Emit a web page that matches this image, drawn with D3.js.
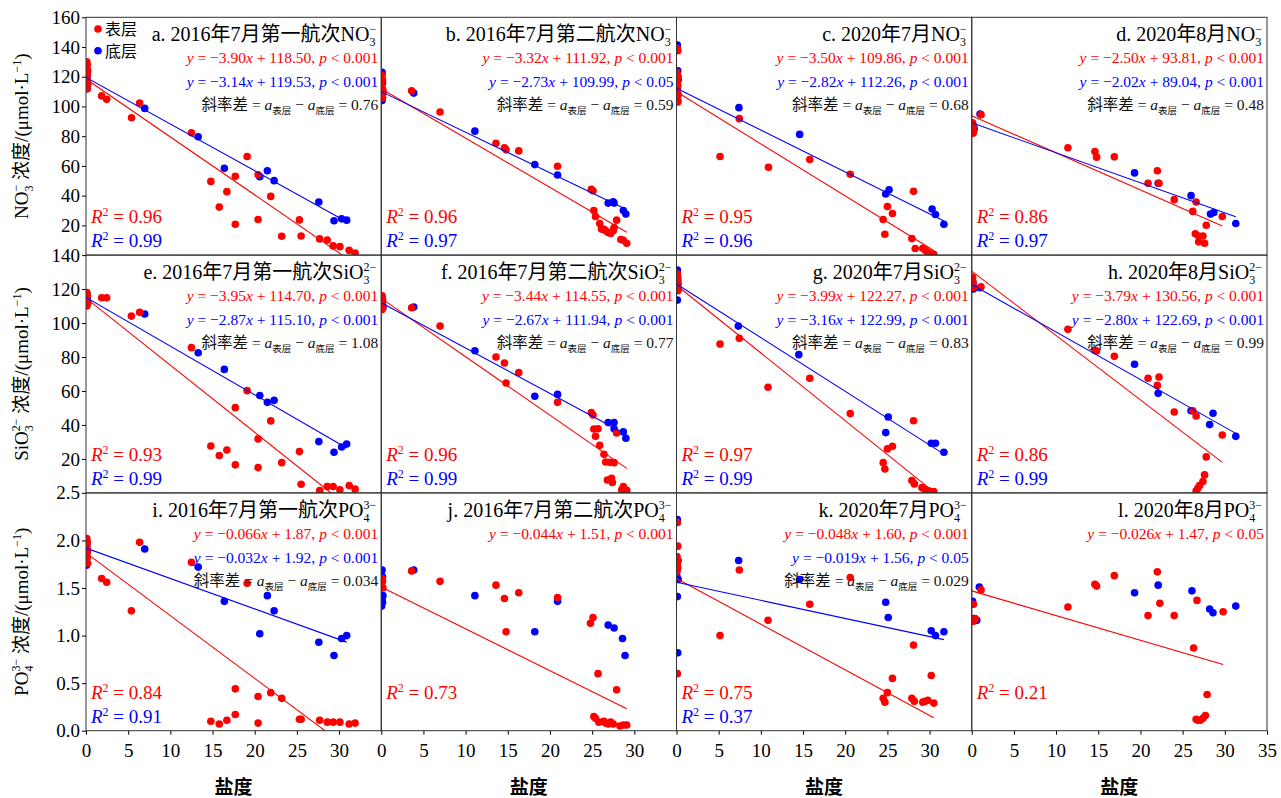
<!DOCTYPE html>
<html><head><meta charset="utf-8">
<script src="https://cdn.jsdelivr.net/npm/d3@7"></script>
<style>body{margin:0;background:#fff}</style>
</head><body><div id="chart"></div>
<script>
// ---- data (salinity, concentration) ----
var a_surf = [[0.1,130],[0.15,128],[0.05,126],[0.2,124],[0.1,122],[0.15,120],[0.05,118],[0.2,116],[0.1,114],[0.15,112],[1.86,107.1],[2.45,104.8],[5.4,92.4],[6.36,102.3],[12.5,82.3],[14.8,49.6],[15.8,32.3],[16.7,42.7],[17.7,53],[17.7,20.8],[19.1,66.3],[20.4,24],[20.4,54.1],[21.9,39.5],[23.2,12.7],[25.3,23.7],[25.5,12.9],[27.7,10.9],[28.6,10.2],[29.3,6.2],[30.1,5.7],[31.2,3.2],[31.9,1.4]];
var a_bot = [[0.1,125],[0.15,121],[0.05,118],[0.2,115],[0.1,112],[6.96,98.7],[13.3,79.6],[16.4,58.4],[20.6,52.8],[21.5,56.8],[22.3,50.1],[27.6,35.7],[29.4,23.1],[30.3,24.4],[30.9,23.5]];
var b_surf = [[0.1,121],[0.15,118],[0.05,114],[0.2,111],[0.1,108],[0.15,106],[3.6,110.5],[6.97,96.3],[13.6,75.3],[14.6,72.2],[14.8,70.8],[16.3,70.1],[20.9,59.8],[24.9,44.2],[25.1,43.3],[25.2,30],[25.4,26],[25.9,21.3],[26.1,17.5],[26.4,17.4],[26.6,16.3],[26.9,15.2],[27.2,14.5],[27.5,16.3],[27.6,18.6],[27.9,23.5],[28.4,10.5],[28.7,10],[29.1,8]];
var b_bot = [[0.1,123],[0.15,116],[0.05,113],[0.2,109],[0.1,104],[3.85,109],[11.1,83.4],[18.2,60.9],[20.9,53.9],[26.9,35],[27.5,35.9],[27.6,35],[28.7,30],[29,27.6]];
var c_surf = [[0.1,139],[0.15,137.5],[0.05,123],[0.2,120],[0.1,117],[0.15,114],[0.05,111],[0.2,108],[0.1,105],[0.15,103],[5.16,66.3],[7.45,91.8],[10.9,59.1],[15.8,64.3],[20.6,54.4],[24.5,24],[24.7,14],[25,32.7],[25.6,28],[28.1,42.9],[27.9,11.1],[28.3,4.4],[29.2,4.6],[29.5,3.2],[29.7,2.3],[30.1,1],[30.5,0.5]];
var c_bot = [[0.1,141.3],[0.15,124],[0.05,121],[0.2,118],[0.1,112],[0.15,104],[7.4,99.2],[14.6,81.2],[24.8,41.1],[25.2,44],[30.3,31],[30.7,27.3],[31.7,20.8]];
var d_surf = [[0.1,89],[0.15,86],[0.05,84],[0.2,83],[0.15,82],[1.1,94.5],[11.4,72.2],[14.6,69.7],[14.8,65.9],[16.9,66.1],[20.9,48.3],[22,56.8],[22.2,48.3],[24,37.3],[26.2,29.4],[26.6,35.7],[26.5,14.3],[26.9,12.9],[27.4,12.9],[26.9,8.9],[27.6,8],[27.8,20.1],[29.7,26]];
var d_bot = [[0.1,88],[0.2,86.5],[0.3,85],[0.15,84],[0.98,94.9],[19.3,55.3],[22.1,48.3],[26,40],[28.3,27.6],[28.7,28.7],[31.3,21.3]];
var e_surf = [[0.1,118],[0.15,116],[0.05,114],[0.2,112],[0.1,110],[1.86,114.9],[2.45,114.9],[5.38,104.1],[6.36,106.3],[12.5,85.5],[14.8,27.6],[15.8,22],[16.7,25.3],[17.7,50.2],[17.7,16.5],[19.1,60.2],[20.4,14.9],[20.4,31.8],[21.9,42.4],[23.2,17.8],[25.3,24.3],[25.5,5.1],[27.7,1.4],[28.6,3.7],[29.3,3.7],[30.1,1.8],[31.2,4.3],[31.9,2.2]];
var e_bot = [[0.1,117],[0.15,115],[0.05,113],[0.2,112],[6.96,105.3],[13.3,82.5],[16.4,72.7],[20.6,57.3],[21.5,53.3],[22.3,54.5],[27.6,30.2],[29.4,23.9],[30.3,27],[30.9,28.8]];
var f_surf = [[0.1,116],[0.15,114],[0.05,112],[0.2,110],[0.1,108],[3.6,109],[6.97,98.2],[13.6,80],[14.6,76.5],[14.8,64.7],[16.3,70.8],[20.9,53.3],[24.9,47.3],[25.1,45.9],[25.2,37.6],[25.7,37.8],[25.4,33.3],[25.9,28],[26.4,22.7],[26.6,18.2],[27.1,18],[27.6,17.8],[27.9,35.3],[26.8,7.6],[27.3,8.6],[27.4,6.1],[28.7,3.7],[28.5,1.8],[29.1,1.6]];
var f_bot = [[0.1,115],[0.15,113],[0.05,111],[0.2,109],[3.85,109.4],[11.1,83.7],[18.2,56.9],[20.9,58],[26.9,41.4],[27.6,41.4],[27.6,37.8],[28.7,35.9],[29,32.2]];
var g_surf = [[0.1,129],[0.15,127],[0.05,125],[0.2,123],[0.1,121],[0.15,119],[5.16,87.6],[7.45,91],[10.85,62.2],[15.8,67.5],[20.6,46.7],[24.5,17.8],[24.7,14.1],[25,25.9],[25.6,27.5],[28.1,42.5],[27.9,7.3],[28.2,5.3],[29.1,3.1],[29.5,1.8],[29.9,1.2],[30.5,0.8]];
var g_bot = [[0.1,131.2],[0.15,125],[0.05,122],[0.2,120],[0.1,113.5],[7.33,98.2],[14.5,81.4],[24.8,35.5],[25.1,44.7],[30.2,29.2],[30.7,29.2],[31.7,23.9]];
var h_surf = [[0.1,127],[0.15,124],[0.05,122],[0.2,121],[1.1,121.4],[11.4,96.3],[14.6,83.9],[14.8,83.5],[16.9,80.4],[20.9,67.5],[22.2,68.2],[22,63.3],[24,47.6],[26.2,48.4],[26.6,45.3],[29.7,34.1],[27.8,21.2],[27.6,10.6],[27.4,6.7],[27,4.3],[26.8,2.7],[26.6,1.2]];
var h_bot = [[0.1,125],[0.15,123],[0.05,121],[0.2,120],[0.98,120.8],[19.3,75.7],[22.1,58.6],[26,48.4],[28.6,46.9],[28.2,40.2],[31.3,33.3]];
var i_surf = [[0.1,2.02],[0.15,1.98],[0.05,1.94],[0.2,1.9],[0.1,1.86],[0.15,1.82],[0.05,1.78],[0.2,1.76],[1.86,1.6],[2.45,1.56],[5.38,1.26],[6.36,1.98],[12.5,1.77],[14.8,0.1],[15.8,0.07],[16.7,0.11],[17.7,0.44],[17.7,0.17],[19.1,1.55],[20.4,0.36],[20.4,0.08],[21.9,0.4],[23.2,0.34],[25.3,0.12],[25.5,0.12],[27.7,0.11],[28.6,0.09],[29.3,0.09],[30.1,0.09],[31.2,0.07],[31.9,0.08]];
var i_bot = [[0.1,1.95],[0.15,1.88],[0.05,1.74],[6.96,1.91],[13.3,1.72],[16.4,1.36],[20.6,1.02],[21.5,1.42],[22.3,1.26],[27.6,0.93],[29.4,0.79],[30.3,0.97],[30.9,1]];
var j_surf = [[0.1,1.6],[0.15,1.57],[0.05,1.53],[0.2,1.5],[3.6,1.68],[6.97,1.57],[13.6,1.53],[14.6,1.39],[14.8,1.04],[16.3,1.45],[20.9,1.4],[24.8,1.13],[25.1,1.19],[25.7,0.6],[27.9,0.43],[25.2,0.15],[25.4,0.13],[25.8,0.09],[26.4,0.1],[26.6,0.08],[26.9,0.07],[27.2,0.09],[27.5,0.07],[28.3,0.05],[28.7,0.06],[29.1,0.06]];
var j_bot = [[0.1,1.69],[0.15,1.62],[0.05,1.58],[0.2,1.42],[0.1,1.38],[0.15,1.35],[0.05,1.31],[3.85,1.69],[11.1,1.42],[18.2,1.04],[20.9,1.36],[26.9,1.11],[27.6,1.08],[28.6,0.97],[28.9,0.79]];
var k_surf = [[0.1,2.19],[0.15,1.94],[0.05,1.83],[0.2,1.79],[0.1,1.75],[0.15,1.71],[0.05,1.67],[0.1,0.6],[5.16,1.0],[7.45,1.69],[10.85,1.16],[15.8,1.33],[20.6,1.61],[24.5,0.34],[24.7,0.3],[25,0.4],[25.6,0.55],[28.1,0.9],[27.9,0.34],[28.2,0.31],[29.2,0.3],[29.5,0.31],[29.8,0.32],[30.2,0.58],[30.5,0.29]];
var k_bot = [[0.1,2.22],[0.15,1.79],[0.05,1.62],[0.2,1.59],[0.1,1.41],[0.15,0.82],[7.37,1.79],[14.6,1.59],[24.8,1.35],[25.1,1.19],[30.2,1.05],[30.7,1.0],[31.7,1.04]];
var l_surf = [[0.2,1.33],[0.1,1.17],[0.4,1.18],[0.2,1.15],[1.1,1.48],[11.4,1.3],[14.6,1.54],[14.8,1.52],[16.9,1.63],[20.9,1.21],[22,1.67],[22.3,1.34],[24,1.21],[26.3,0.87],[26.7,1.37],[29.8,1.25],[27.9,0.38],[27.7,0.16],[27.4,0.13],[27.1,0.11],[26.8,0.11],[26.6,0.12]];
var l_bot = [[0.1,1.36],[0.6,1.16],[0.2,1.18],[0.9,1.51],[19.3,1.45],[22.1,1.53],[26.1,1.47],[28.2,1.28],[28.6,1.24],[31.3,1.31]];

var surfSeries = [a_surf,b_surf,c_surf,d_surf,e_surf,f_surf,g_surf,h_surf,i_surf,j_surf,k_surf,l_surf];
var botSeries = [a_bot,b_bot,c_bot,d_bot,e_bot,f_bot,g_bot,h_bot,i_bot,j_bot,k_bot,l_bot];

// regression fits [slope, intercept]
var surfFit = [[-3.90,118.50],[-3.32,111.92],[-3.50,109.86],[-2.50,93.81],[-3.95,114.70],[-3.44,114.55],[-3.99,122.27],[-3.79,130.56],[-0.066,1.87],[-0.044,1.51],[-0.048,1.60],[-0.026,1.47]];
var botFit = [[-3.14,119.53],[-2.73,109.99],[-2.82,112.26],[-2.02,89.04],[-2.87,115.10],[-2.67,111.94],[-3.16,122.99],[-2.80,122.69],[-0.032,1.92],null,[-0.019,1.56],null];
var surfP = ["0.001","0.001","0.001","0.001","0.001","0.001","0.001","0.001","0.001","0.001","0.001","0.05"];
var botP = ["0.001","0.05","0.001","0.001","0.001","0.001","0.001","0.001","0.001",null,"0.05",null];
var slopeDiff = ["0.76","0.59","0.68","0.48","1.08","0.77","0.83","0.99","0.034",null,"0.029",null];
var r2Surf = ["0.96","0.96","0.95","0.86","0.93","0.96","0.97","0.86","0.84","0.73","0.75","0.21"];
var r2Bot = ["0.99","0.97","0.96","0.97","0.99","0.99","0.99","0.99","0.91",null,"0.37",null];

var panelLetters = ["a","b","c","d","e","f","g","h","i","j","k","l"];
var cruises = ["2016年7月第一航次","2016年7月第二航次","2020年7月","2020年8月"];
var species = [["NO","3","−"],["SiO","3","2−"],["PO","4","3−"]];
var yMax = [160,140,2.5];
var yTicks = [[20,40,60,80,100,120,140,160],[20,40,60,80,100,120,140],[0,0.5,1,1.5,2,2.5]];
var xTicks = [0,5,10,15,20,25,30];
var xTicksLast = [0,5,10,15,20,25,30,35];

// ---- layout ----
var mLeft = 86, mTop = 17.3, cellW = 295.25, cellH = 237.8;
var RED = "#ff0000", BLUE = "#0000ff";
var FONT = "'Liberation Serif','Times New Roman','Noto Sans CJK SC',serif";

var svg = d3.select("#chart").append("svg")
  .attr("width", 1281).attr("height", 798)
  .style("font-family", FONT);

var x = d3.scaleLinear().domain([0,35]).range([0,cellW]);

// rich text with sub/superscripts
function rich(sel, segs) {
  var sh = 0;
  segs.forEach(function(s) {
    var t = sel.append("tspan").text(s.t);
    var target = s.sh || 0;
    if (target !== sh) t.attr("dy", target - sh);
    sh = target;
    if (s.dx) t.attr("dx", s.dx);
    if (s.size) t.style("font-size", s.size + "px");
    if (s.it) t.style("font-style", "italic");
  });
}
function num(v, d) { return v.toFixed(d).replace("-", "−"); }

svg.append("defs").append("clipPath").attr("id","cell")
  .append("rect").attr("width", cellW).attr("height", cellH);

for (var p = 0; p < 12; p++) {
  var r = Math.floor(p / 4), c = p % 4;
  var y = d3.scaleLinear().domain([0, yMax[r]]).range([cellH, 0]);
  var g = svg.append("g").attr("transform", "translate(" + (mLeft + c*cellW) + "," + (mTop + r*cellH) + ")");
  var right = cellW;

  // axes
  if (c === 0) {
    var ya = g.append("g").call(d3.axisLeft(y).tickValues(yTicks[r]).tickSize(4).tickPadding(2)
      .tickFormat(r === 2 ? d3.format(".1f") : d3.format("d")));
    ya.select(".domain").remove();
    ya.attr("font-family", FONT).attr("font-size", 19);
  }
  if (r === 2) {
    var xa = g.append("g").attr("transform", "translate(0," + cellH + ")")
      .call(d3.axisBottom(x).tickValues(c === 3 ? xTicksLast : xTicks).tickSize(4).tickPadding(9));
    xa.select(".domain").remove();
    xa.attr("font-family", FONT).attr("font-size", 19);
    g.append("text").attr("x", cellW/2).attr("y", cellH + 63.5)
      .attr("text-anchor", "middle").style("font-size", "19px").style("font-weight", "bold")
      .text("盐度");
  }

  var plot = g.append("g").attr("clip-path", "url(#cell)");
  var line = d3.line().x(function(d){ return x(d[0]); }).y(function(d){ return y(d[1]); });

  // points: bottom layer first, surface on top
  plot.selectAll(".b").data(botSeries[p]).enter().append("circle")
    .attr("cx", function(d){ return x(d[0]); }).attr("cy", function(d){ return y(d[1]); })
    .attr("r", 3.8).style("fill", BLUE);
  plot.selectAll(".s").data(surfSeries[p]).enter().append("circle")
    .attr("cx", function(d){ return x(d[0]); }).attr("cy", function(d){ return y(d[1]); })
    .attr("r", 3.8).style("fill", RED);

  // regression lines from 0 to max salinity of each layer
  [[surfFit[p], surfSeries[p], RED], [botFit[p], botSeries[p], BLUE]].forEach(function(f) {
    if (!f[0]) return;
    var xm = d3.max(f[1], function(d){ return d[0]; });
    var pts = [0, xm].map(function(s){ return [s, f[0][0]*s + f[0][1]]; });
    plot.append("path").attr("d", line(pts)).style("fill","none").style("stroke", f[2]).style("stroke-width", 1.1);
  });

  // frame
  g.append("rect").attr("width", cellW).attr("height", cellH)
    .style("fill","none").style("stroke","#333").style("stroke-width",1);

  // title
  var sp = species[r];
  var title = g.append("text").attr("x", right - 5).attr("y", 24).attr("text-anchor","end").style("font-size","20px");
  rich(title, [{t: panelLetters[p] + ". " + cruises[c] + sp[0]}, {t: sp[1], sh: 5, size: 12},
    {t: sp[2], sh: -8, size: 12, dx: -6}]);

  var dec = r === 2 ? 3 : 2;
  var t1 = g.append("text").attr("x", right - 3).attr("y", 46).attr("text-anchor","end")
    .style("font-size","15.5px").style("fill", RED);
  rich(t1, [{t:"y",it:1},{t:" = " + num(surfFit[p][0], dec)},{t:"x",it:1},
    {t:" + " + surfFit[p][1].toFixed(2) + ", "},{t:"p",it:1},{t:" < " + surfP[p]}]);
  if (botFit[p]) {
    var t2 = g.append("text").attr("x", right - 3).attr("y", 70).attr("text-anchor","end")
      .style("font-size","15.5px").style("fill", BLUE);
    rich(t2, [{t:"y",it:1},{t:" = " + num(botFit[p][0], dec)},{t:"x",it:1},
      {t:" + " + botFit[p][1].toFixed(2) + ", "},{t:"p",it:1},{t:" < " + botP[p]}]);
  }
  if (slopeDiff[p]) {
    var t3 = g.append("text").attr("x", right - 3).attr("y", 93).attr("text-anchor","end")
      .style("font-size","15.5px").style("fill","#111");
    rich(t3, [{t:"斜率差 = "},{t:"a",it:1},{t:"表层",sh:4,size:9.5},{t:" − ",sh:0},{t:"a",it:1},
      {t:"底层",sh:4,size:9.5},{t:" = " + slopeDiff[p],sh:0}]);
  }

  var rs = g.append("text").attr("x", 5).attr("y", cellH - 32).style("font-size","19px").style("fill", RED);
  rich(rs, [{t:"R",it:1},{t:"2",sh:-7,size:12},{t:" = " + r2Surf[p],sh:0}]);
  if (r2Bot[p]) {
    var rb = g.append("text").attr("x", 5).attr("y", cellH - 8).style("font-size","19px").style("fill", BLUE);
    rich(rb, [{t:"R",it:1},{t:"2",sh:-7,size:12},{t:" = " + r2Bot[p],sh:0}]);
  }

  // legend in first panel
  if (p === 0) {
    [["表层", RED], ["底层", BLUE]].forEach(function(l, k) {
      g.append("circle").attr("cx", 12).attr("cy", 11.7 + k*21.7).attr("r", 3.8).style("fill", l[1]);
      g.append("text").attr("x", 19).attr("y", 17.7 + k*21.7).style("font-size","16px").text(l[0]);
    });
  }

  // row y-axis label
  if (c === 0) {
    var yl = g.append("text").attr("transform", "translate(-58," + cellH/2 + ") rotate(-90)")
      .attr("text-anchor","middle").style("font-size","19px");
    rich(yl, [{t: sp[0]}, {t: sp[1], sh: 5, size: 12}, {t: sp[2], sh: -8, size: 12, dx: -6},
      {t: " 浓度/(μmol·L", sh: 0}, {t: "−1", sh: -7, size: 12}, {t: ")", sh: 0}]);
  }
}
</script></body></html>
